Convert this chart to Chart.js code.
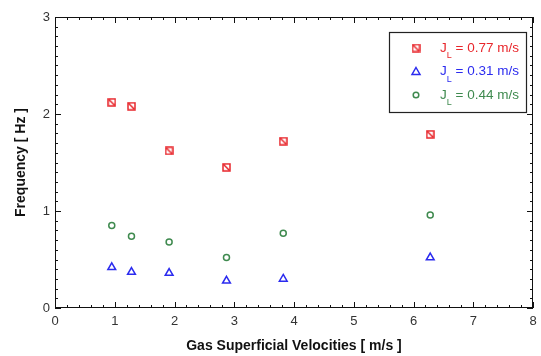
<!DOCTYPE html>
<html>
<head>
<meta charset="utf-8">
<script src="https://cdn.jsdelivr.net/npm/chart.js@4"></script>
<style>
  html, body { margin: 0; padding: 0; background: #fff; }
  #wrap { width: 541px; height: 356px; }
</style>
</head>
<body>
<div id="wrap"><canvas id="freq-Chart"></canvas></div>
<script>
// gas superficial velocities [m/s]
const velocities = [0.95, 1.28, 1.91, 2.87, 3.82, 6.28];
// frequency [Hz] for each liquid velocity
const freqJL077 = [2.12, 2.08, 1.62, 1.45, 1.72, 1.79];
const freqJL031 = [0.42, 0.37, 0.36, 0.28, 0.30, 0.52];
const freqJL044 = [0.85, 0.74, 0.68, 0.52, 0.77, 0.96];
const seriesLabels = ['0.77 m/s', '0.31 m/s', '0.44 m/s'];
const xTicks = [0, 1, 2, 3, 4, 5, 6, 7, 8];
const yTicks = [0, 1, 2, 3];

const RED = '#e8262b', BLUE = '#2b2bef', GREEN = '#3f8a4f';
const FONT = 'Liberation Sans, Arial, Helvetica, sans-serif';

// square with a diagonal, like the original marker
function boxMarker(color) {
    const c = document.createElement('canvas');
    c.width = 9; c.height = 9;
    const g = c.getContext('2d');
    g.strokeStyle = color;
    g.lineWidth = 1.5;
    g.strokeRect(1, 1, 7, 7);
    g.beginPath();
    g.moveTo(1.5, 1.5);
    g.lineTo(7.5, 7.5);
    g.stroke();
    return c;
}
const redBox = boxMarker(RED);

function pts(ys) {
    return velocities.map((v, i) => ({x: v, y: ys[i]}));
}

// frame with inward major + minor ticks on all four sides
const frameTicks = {
    id: 'frameTicks',
    afterDraw(chart) {
        const {ctx, chartArea: a, scales: {x, y}} = chart;
        ctx.save();
        ctx.strokeStyle = '#111';
        ctx.lineWidth = 1;
        ctx.strokeRect(a.left + 0.5, a.top + 0.5, a.right - a.left - 1, a.bottom - a.top - 1);
        ctx.beginPath();
        for (let i = 0; i <= 40; i++) {
            const px = Math.round(x.getPixelForValue(i * 0.2)) + 0.5;
            const len = i % 5 === 0 ? 6 : 3;
            ctx.moveTo(px, a.bottom); ctx.lineTo(px, a.bottom - len);
            ctx.moveTo(px, a.top); ctx.lineTo(px, a.top + len);
        }
        for (let i = 0; i <= 30; i++) {
            const py = Math.round(y.getPixelForValue(i * 0.1)) + 0.5;
            const len = i % 10 === 0 ? 6 : 3;
            ctx.moveTo(a.left, py); ctx.lineTo(a.left + len, py);
            ctx.moveTo(a.right, py); ctx.lineTo(a.right - len, py);
        }
        ctx.stroke();
        ctx.restore();
    }
};

// boxed legend with J_L subscript
const jlLegend = {
    id: 'jlLegend',
    afterDraw(chart) {
        const ctx = chart.ctx;
        const bx = 389, by = 32, bw = 137, bh = 80;
        ctx.save();
        ctx.fillStyle = '#fff';
        ctx.fillRect(bx, by, bw, bh);
        ctx.strokeStyle = '#222';
        ctx.lineWidth = 1.2;
        ctx.strokeRect(bx + 0.5, by + 0.5, bw, bh);
        chart.data.datasets.forEach((ds, i) => {
            const ry = 48 + i * 23.5;
            const mx = 416;
            ctx.strokeStyle = ds.borderColor;
            ctx.lineWidth = 1.5;
            if (ds.pointStyle === 'triangle') {
                ctx.beginPath();
                ctx.moveTo(mx, ry - 4); ctx.lineTo(mx + 4, ry + 3); ctx.lineTo(mx - 4, ry + 3);
                ctx.closePath(); ctx.stroke();
            } else if (ds.pointStyle === 'circle') {
                ctx.beginPath(); ctx.arc(mx, ry, 2.8, 0, Math.PI * 2); ctx.stroke();
            } else {
                ctx.drawImage(redBox, mx - 4.5, ry - 4.5);
            }
            ctx.fillStyle = ds.borderColor;
            ctx.textBaseline = 'middle';
            ctx.font = '13.5px ' + FONT;
            ctx.fillText('J', 440, ry);
            const jw = ctx.measureText('J').width;
            ctx.font = '9px ' + FONT;
            ctx.fillText('L', 440 + jw, ry + 8);
            const lw = ctx.measureText('L').width;
            ctx.font = '13.5px ' + FONT;
            ctx.fillText(' = ' + seriesLabels[i], 440 + jw + lw, ry);
        });
        ctx.restore();
    }
};

const ctx = document.getElementById('freq-Chart').getContext('2d');
const myChart = new Chart(ctx, {
    type: 'scatter',
    data: {
        datasets: [{
            label: 'JL = ' + seriesLabels[0],
            data: pts(freqJL077),
            pointStyle: redBox,
            borderColor: RED,
            backgroundColor: 'transparent',
            pointRadius: 5
        },
        {
            label: 'JL = ' + seriesLabels[1],
            data: pts(freqJL031),
            pointStyle: 'triangle',
            borderColor: BLUE,
            backgroundColor: 'transparent',
            borderWidth: 1.5,
            pointRadius: 4.5
        },
        {
            label: 'JL = ' + seriesLabels[2],
            data: pts(freqJL044),
            pointStyle: 'circle',
            borderColor: GREEN,
            backgroundColor: 'transparent',
            borderWidth: 1.5,
            pointRadius: 3
        }]
    },
    options: {
        responsive: true,
        maintainAspectRatio: false,
        animation: false,
        events: [],
        layout: { padding: { top: 17, right: 8, left: 0, bottom: 0 } },
        plugins: { legend: { display: false }, tooltip: { enabled: false } },
        scales: {
            x: {
                type: 'linear',
                min: 0, max: 8,
                afterBuildTicks: s => { s.ticks = xTicks.map(v => ({value: v})); },
                afterFit: s => { s.height = 48; s.paddingLeft = 0; s.paddingRight = 0; },
                grid: { display: false, drawTicks: false },
                border: { display: false },
                ticks: { padding: 6, color: '#333', font: { family: FONT, size: 13 } },
                title: {
                    display: true,
                    text: 'Gas Superficial Velocities [ m/s ]',
                    color: '#111',
                    font: { family: FONT, size: 14, weight: 'bold' },
                    padding: { top: 4, bottom: 1 }
                }
            },
            y: {
                type: 'linear',
                min: 0, max: 3,
                afterBuildTicks: s => { s.ticks = yTicks.map(v => ({value: v})); },
                afterFit: s => { s.width = 55; s.paddingTop = 0; s.paddingBottom = 0; },
                grid: { display: false, drawTicks: false },
                border: { display: false },
                ticks: { padding: 5, color: '#333', font: { family: FONT, size: 13 } },
                title: {
                    display: true,
                    text: 'Frequency [ Hz ]',
                    color: '#111',
                    font: { family: FONT, size: 14, weight: 'bold' },
                    padding: { top: 13 }
                }
            }
        }
    },
    plugins: [frameTicks, jlLegend]
});
</script>
</body>
</html>
